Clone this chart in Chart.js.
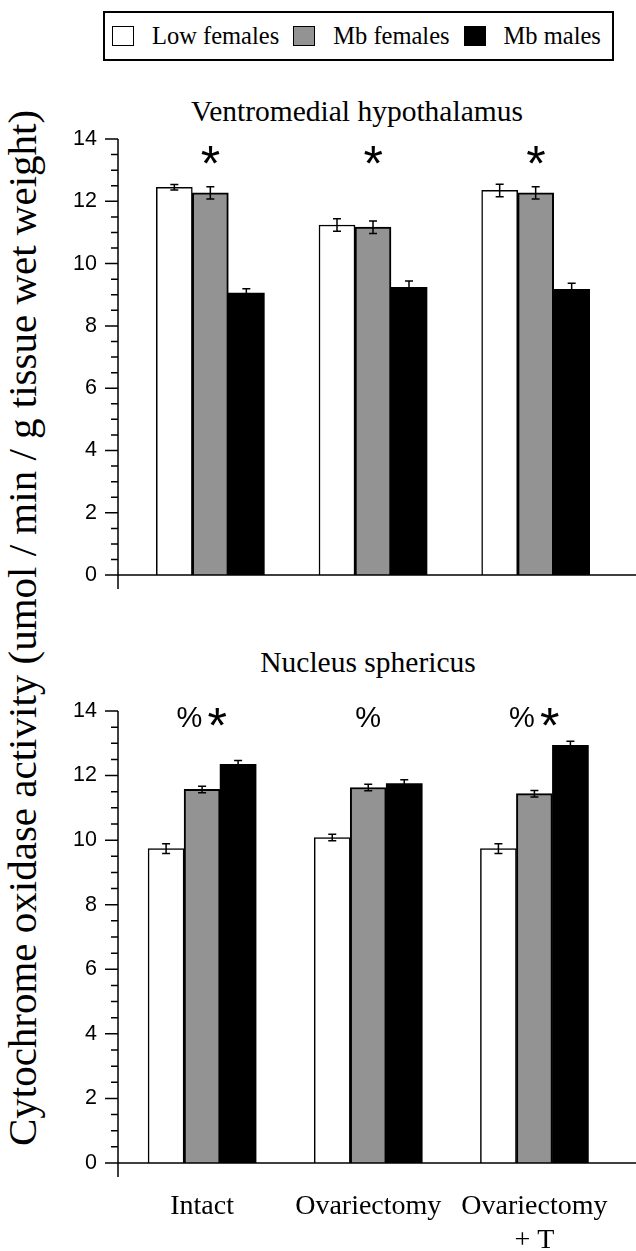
<!DOCTYPE html>
<html>
<head>
<meta charset="utf-8">
<script src="https://cdn.jsdelivr.net/npm/chart.js@4.4.1/dist/chart.umd.min.js"></script>
<style>
  body { margin: 0; background: #fff; }
  #page { position: relative; width: 636px; height: 1251px; overflow: hidden; font-family: "Liberation Serif", "Times New Roman", serif; color: #000; }
  .abs { position: absolute; }
  #legend { left: 103px; top: 11px; width: 511px; height: 50px; border: 2px solid #000; box-sizing: border-box;
            display: flex; align-items: center; padding-left: 7px; font-size: 24.5px; white-space: nowrap; }
  #legend .sw { flex: none; width: 22px; height: 20px; border: 1.5px solid #000; box-sizing: border-box; margin-right: 18px; }
  #legend .item { flex: none; display: flex; align-items: center; margin-right: 14px; }
  .title { font-size: 29.5px; line-height: 29.5px; white-space: nowrap; transform: translateX(-50%); }
  #ytitle { left: 22px; top: 628px; font-size: 41px; line-height: 41px; white-space: nowrap;
            transform: translate(-50%, -50%) rotate(-90deg); }
</style>
</head>
<body>
<div id="page">
  <div id="legend" class="abs"></div>
  <div class="abs title" style="left:357px; top:97px;">Ventromedial hypothalamus</div>
  <div class="abs title" style="left:368px; top:648px;">Nucleus sphericus</div>
  <div id="ytitle" class="abs">Cytochrome oxidase activity (umol / min / g tissue wet weight)</div>
  <div class="abs" style="left:0; top:0; width:636px; height:620px;"><canvas id="vmh"></canvas></div>
  <div class="abs" style="left:0; top:620px; width:636px; height:631px;"><canvas id="ns"></canvas></div>
</div>

<script>
// groups and series
const groups = ['Intact', 'Ovariectomy', ['Ovariectomy', '+ T']];
const seriesNames = ['Low females', 'Mb females', 'Mb males'];
const seriesColors = ['#ffffff', '#939393', '#000000'];

// Ventromedial hypothalamus
const vmhLow = [12.45, 11.24, 12.35];
const vmhLowErr = [0.09, 0.2, 0.2];
const vmhMbF = [12.27, 11.17, 12.27];
const vmhMbFErr = [0.2, 0.2, 0.2];
const vmhMbM = [9.05, 9.24, 9.17];
const vmhMbMErr = [0.14, 0.2, 0.2];
const vmhMarks = ['*', '*', '*'];

// Nucleus sphericus
const nsLow = [9.74, 10.08, 9.74];
const nsLowErr = [0.15, 0.1, 0.15];
const nsMbF = [11.57, 11.63, 11.44];
const nsMbFErr = [0.1, 0.1, 0.1];
const nsMbM = [12.35, 11.75, 12.94];
const nsMbMErr = [0.12, 0.12, 0.12];
const nsMarks = ['%*', '%', '%*'];

const yTicks = [0, 2, 4, 6, 8, 10, 12, 14];

// legend
const legend = document.getElementById('legend');
seriesNames.forEach((name, i) => {
  const item = document.createElement('div');
  item.className = 'item';
  item.innerHTML = `<div class="sw" style="background:${seriesColors[i]}"></div><span>${name}</span>`;
  legend.appendChild(item);
});

// y axis line with minor ticks, and the baseline
const axisLines = {
  id: 'axisLines',
  afterDraw(chart, args, opts) {
    const { ctx, chartArea: a, scales: { y } } = chart;
    const ax = opts.x;
    ctx.save();
    ctx.strokeStyle = '#000';
    ctx.lineWidth = 1.5;
    ctx.beginPath();
    ctx.moveTo(ax, y.getPixelForValue(y.max));
    ctx.lineTo(ax, a.bottom + 14);
    ctx.moveTo(ax, a.bottom);
    ctx.lineTo(chart.width, a.bottom);
    for (let v = y.min; v <= y.max; v += 0.5) {
      const py = y.getPixelForValue(v);
      const len = yTicks.includes(v) ? 13 : 7;
      ctx.moveTo(ax - len, py);
      ctx.lineTo(ax, py);
    }
    ctx.stroke();
    ctx.restore();
  }
};

const errorBars = {
  id: 'errorBars',
  afterDatasetsDraw(chart) {
    const { ctx, scales: { y } } = chart;
    ctx.save();
    ctx.strokeStyle = '#000';
    ctx.lineWidth = 1.5;
    chart.data.datasets.forEach((ds, di) => {
      chart.getDatasetMeta(di).data.forEach((bar, i) => {
        const v = ds.data[i], e = ds.errors[i];
        const t = y.getPixelForValue(v + e), b = y.getPixelForValue(v - e);
        ctx.beginPath();
        ctx.moveTo(bar.x, t); ctx.lineTo(bar.x, b);
        ctx.moveTo(bar.x - 4, t); ctx.lineTo(bar.x + 4, t);
        ctx.moveTo(bar.x - 4, b); ctx.lineTo(bar.x + 4, b);
        ctx.stroke();
      });
    });
    ctx.restore();
  }
};

// significance marks above each group
const marks = {
  id: 'marks',
  afterDraw(chart, args, opts) {
    const { ctx, scales: { x, y } } = chart;
    const cy = y.getPixelForValue(opts.value);
    ctx.save();
    ctx.fillStyle = '#000';
    ctx.textAlign = 'left';
    ctx.textBaseline = 'alphabetic';
    opts.labels.forEach((s, i) => {
      const parts = s.split('').map(ch => {
        const font = ch === '*' ? '50px "Liberation Sans"' : '29px "Liberation Sans"';
        ctx.font = font;
        return { ch, font, m: ctx.measureText(ch) };
      });
      const gap = 6;
      const w = p => p.m.actualBoundingBoxLeft + p.m.actualBoundingBoxRight;
      const total = parts.reduce((t, p) => t + w(p), 0) + gap * (parts.length - 1);
      let cx = x.getPixelForValue(i) - total / 2;
      parts.forEach(p => {
        ctx.font = p.font;
        const base = cy + (p.m.actualBoundingBoxAscent - p.m.actualBoundingBoxDescent) / 2;
        ctx.fillText(p.ch, cx + p.m.actualBoundingBoxLeft, base);
        cx += w(p) + gap;
      });
    });
    ctx.restore();
  }
};

// area: left/right edges of the category band, top/bottom padding
function makeChart(id, series, errs, markLabels, markValue, area, showLabels) {
  return new Chart(document.getElementById(id), {
    type: 'bar',
    data: {
      labels: groups,
      datasets: series.map((vals, k) => ({
        label: seriesNames[k],
        data: vals,
        errors: errs[k],
        backgroundColor: seriesColors[k],
        borderColor: '#000',
        borderWidth: k === 2 ? 0 : (k === 1 ? 2 : 1.5),
        barThickness: 36
      }))
    },
    options: {
      responsive: true,
      maintainAspectRatio: false,
      animation: false,
      layout: { padding: { top: area.top, bottom: area.bottom, left: 0, right: 636 - area.right } },
      plugins: {
        legend: { display: false },
        tooltip: { enabled: false },
        marks: { labels: markLabels, value: markValue },
        axisLines: { x: 118 }
      },
      scales: {
        x: {
          display: showLabels,
          grid: { display: false, drawTicks: false },
          border: { display: false },
          afterFit: s => { if (showLabels) s.height = 88; },
          ticks: {
            autoSkip: false,
            maxRotation: 0,
            padding: 27,
            color: '#000',
            font: { family: 'Liberation Serif', size: 28, lineHeight: 1.2 }
          }
        },
        y: {
          min: 0,
          max: 14,
          grid: { display: false, drawTicks: false },
          border: { display: false },
          afterFit: s => { s.width = area.left; },
          ticks: {
            stepSize: 2,
            padding: area.left - 97,
            color: '#000',
            font: { family: 'Liberation Sans', size: 21.5 }
          }
        }
      }
    },
    plugins: [errorBars, axisLines, marks]
  });
}

makeChart('vmh', [vmhLow, vmhMbF, vmhMbM], [vmhLowErr, vmhMbFErr, vmhMbMErr], vmhMarks, 13.5,
  { left: 129, right: 617, top: 139, bottom: 29 }, false);
makeChart('ns', [nsLow, nsMbF, nsMbM], [nsLowErr, nsMbFErr, nsMbMErr], nsMarks, 13.8,
  { left: 119, right: 627, top: 91, bottom: 0 }, true);
</script>
</body>
</html>
